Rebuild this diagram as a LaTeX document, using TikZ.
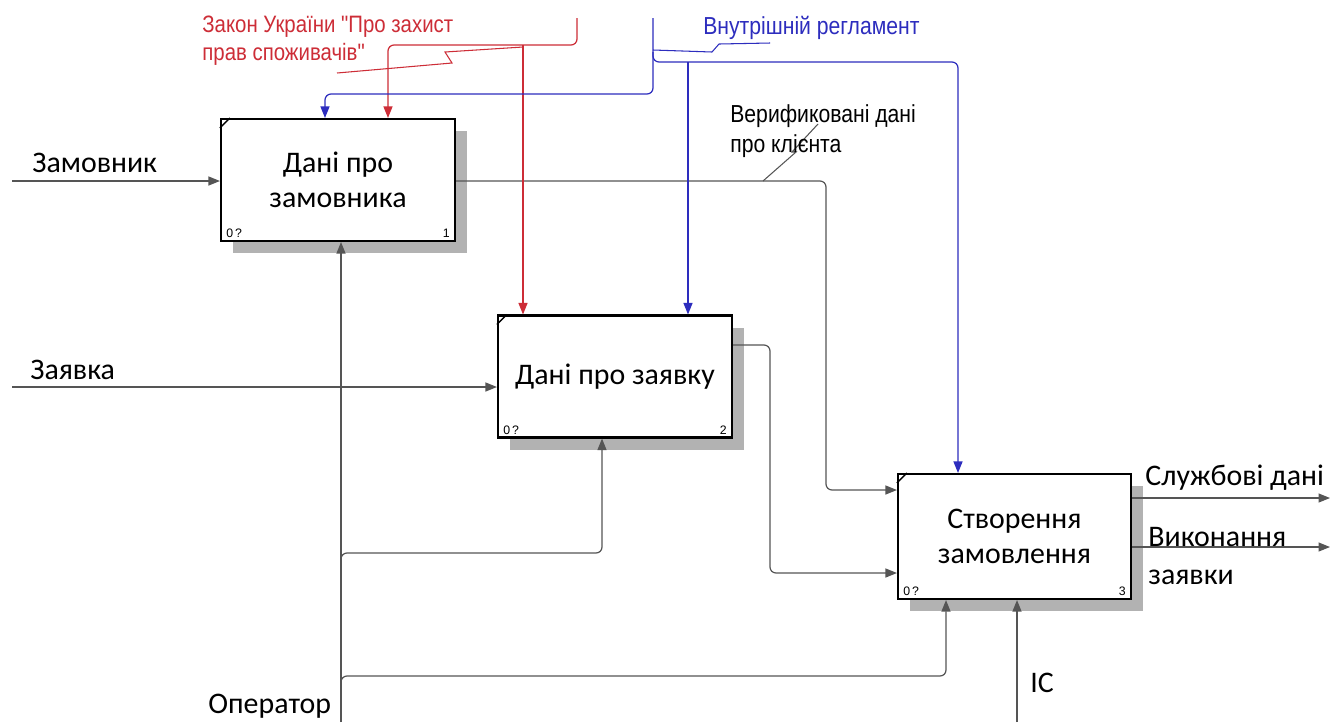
\documentclass[tikz,border=0pt]{standalone}
\usepackage{fontspec}
\setmainfont{Carlito}
\newfontfamily\arialn[FakeStretch=0.86]{Liberation Sans}
\newfontfamily\arial{Liberation Sans}
\usetikzlibrary{arrows.meta, positioning, calc, shadows}
\definecolor{lawred}{RGB}{205,45,55}
\definecolor{regblue}{RGB}{45,45,190}
\definecolor{wire}{RGB}{85,85,85}

\begin{document}
\begin{tikzpicture}[x=0.2mm, y=-0.2mm,
  every node/.style={inner sep=0pt},
  fn/.style={rectangle, draw, line width=1.2pt, fill=white,
    minimum width=46.8mm, minimum height=24.4mm, align=center,
    font=\fontsize{17}{20}\selectfont,
    drop shadow={shadow xshift=2.4mm, shadow yshift=-2.4mm,
      fill=black!30, opacity=1}},
  flow/.style={draw=wire, line width=0.7pt, rounded corners=1.2mm,
    -{Triangle[length=2.3mm, width=1.8mm]}},
  law/.style={flow, draw=lawred},
  reg/.style={flow, draw=regblue},
  lbl/.style={font=\fontsize{17}{20}\selectfont, anchor=west, align=left},
  note/.style={font=\arialn\fontsize{14}{15}\selectfont, anchor=west, align=left},
  tag/.style={font=\arial\fontsize{7}{8}\selectfont}
]
\useasboundingbox[fill=white] (0,0) rectangle (1337,722);

% function blocks
\node[fn] (b1) at (338,180) {Дані про\\замовника};
\node[fn] (b2) at (615,376.5) {Дані про заявку};
\node[fn, minimum width=46.6mm, minimum height=25mm] (b3) at (1014.5,536.5) {Створення\\замовлення};

\foreach \b/\n in {b1/1, b2/2, b3/3} {
  \draw[line width=0.8pt] ($(\b.north west)+(0,10)$) -- ($(\b.north west)+(10,0)$);
  \node[tag, anchor=south west] at ($(\b.south west)+(6,-4)$) {0\,?};
  \node[tag, anchor=south east] at ($(\b.south east)+(-6,-4)$) {\n};
}

% free ends and bends
\coordinate (zamIn) at (12,181);
\coordinate (zayIn) at (12,387);
\coordinate (opIn) at (341,722);
\coordinate (icIn) at (1017,722);
\coordinate (lawIn) at (577,18);
\coordinate (regIn) at (653,18);
\coordinate (out1) at (1330,498);
\coordinate (out2) at (1330,547);
\coordinate (v1) at (826,490);
\coordinate (v2top) at (770,345);
\coordinate (v2) at (770,573);
\coordinate (opA) at (341,553);
\coordinate (opB) at (341,676);
\coordinate (lawA) at (388,45);
\coordinate (lawB) at (523,45);
\coordinate (regA) at (325,94);
\coordinate (regB) at (653,62);
\coordinate (regC) at (958,62);
\coordinate (regD) at (688,62);

% inputs
\draw[flow] (zamIn) -- (zamIn -| b1.west);
\draw[flow] (zayIn) -- (zayIn -| b2.west);
\draw[flow] (b1.east |- zamIn) -| (v1) -- (v1 -| b3.west);
\draw[flow] (b2.east |- v2top) -- (v2top) -- (v2) -- (v2 -| b3.west);

% outputs
\draw[flow] (b3.east |- out1) -- (out1);
\draw[flow] (b3.east |- out2) -- (out2);

% mechanisms
\draw[flow] (opIn) -- (opIn |- b1.south);
\draw[flow] ($(opA)+(0,10)$) -- (opA) -| ($(b2.south)+(-13,0)$);
\draw[flow] ($(opB)+(0,10)$) -- (opB) -| ($(b3.south)+(-68.5,0)$);
\draw[flow] (icIn) -- (icIn |- b3.south);

% controls
\draw[law] (lawIn) |- (lawA) -- (lawA |- b1.north);
\draw[law] (lawB) -- (lawB |- b2.north);
\draw[reg] (regIn) |- (regA) -- (regA |- b1.north);
\draw[reg] ($(regB)+(0,-10)$) -- (regB) -- (regC) -- (regC |- b3.north);
\draw[reg] (regD) -- (regD |- b2.north);

% label pointers
\draw[lawred, line width=0.6pt] (337,73) -- (452,63) -- (445,52) -- (lawB |- 0,47);
\draw[regblue, line width=0.6pt] (653,50) -- (712,52) -- (719,44) -- (770,43);
\draw[wire, line width=0.6pt] (763,181) -- (796,152) -- (792,152) -- (818,124);

% labels
\node[lbl] (tZam) at (32,163) {Замовник};
\node[lbl] (tZay) at (30,370) {Заявка};
\node[lbl] (tOp) at (208,706) {Оператор};
\node[lbl] (tIc) at (1030,683) {IC};
\node[lbl] (tSl) at (1145,478) {Службові дані};
\node[lbl, font=\fontsize{17}{22}\selectfont] (tVyk) at (1148,556) {Виконання\\заявки};
\node[note, text=lawred, font=\arialn\fontsize{13.5}{16}\selectfont] (tLaw) at (202,41) {Закон України "Про захист\\прав споживачів"};
\node[note, text=regblue] (tReg) at (703,28) {Внутрішній регламент};
\node[note, font=\arialn\fontsize{14}{17}\selectfont] (tVer) at (730,131) {Верификовані дані\\про клієнта};
\end{tikzpicture}
\end{document}
